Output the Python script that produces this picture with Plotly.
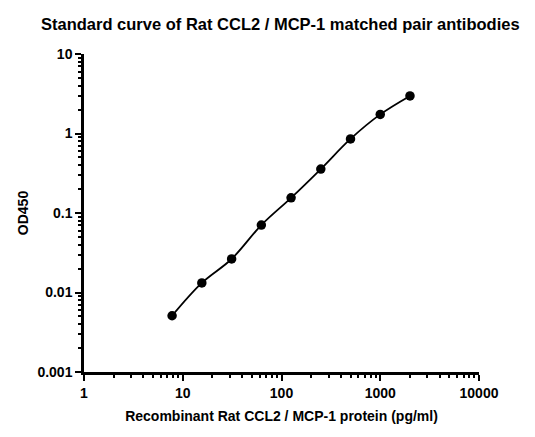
import plotly.graph_objects as go

# concentrations (pg/ml) and OD450 readings
conc = [7.8, 15.6, 31.25, 62.5, 125, 250, 500, 1000, 2000]
od450 = [0.0051, 0.0132, 0.0264, 0.0705, 0.155, 0.357, 0.855, 1.74, 2.97]

x_ticks = [1, 10, 100, 1000, 10000]
x_labels = ["1", "10", "100", "1000", "10000"]
y_ticks = [0.001, 0.01, 0.1, 1, 10]
y_labels = ["0.001", "0.01", "0.1", "1", "10"]

font_main = "Liberation Sans, Arial, sans-serif"

fig = go.Figure()
fig.add_trace(go.Scatter(
    x=conc, y=od450,
    mode="lines+markers",
    line=dict(color="black", width=1.8, shape="spline", smoothing=1.0),
    marker=dict(color="black", size=9.5),
    showlegend=False,
))

axis_common = dict(
    type="log",
    automargin=False,
    showgrid=False,
    zeroline=False,
    showline=True,
    linecolor="black",
    linewidth=2.5,
    ticks="outside",
    ticklen=6,
    tickwidth=2,
    tickcolor="black",
    tickfont=dict(family=font_main, size=14, color="black"),
    minor=dict(ticks="outside", ticklen=3, tickwidth=2, tickcolor="black",
               dtick="D1", showgrid=False),
)

fig.update_layout(
    width=535, height=437,
    margin=dict(l=76, r=64, t=46, b=73),
    paper_bgcolor="white",
    plot_bgcolor="white",
    title=dict(
        text="<b>Standard curve of Rat CCL2 / MCP-1 matched pair antibodies</b>",
        x=0.509, xanchor="center", y=0.963, yanchor="middle",
        font=dict(family=font_main, size=16.5, color="black"),
    ),
    xaxis=dict(
        axis_common,
        range=[0, 4],
        tickvals=x_ticks, ticktext=["<b>%s</b>" % t for t in x_labels],
        title=dict(text="<b>Recombinant Rat CCL2 / MCP-1 protein (pg/ml)</b>",
                   font=dict(family=font_main, size=14, color="black"), standoff=12),
    ),
    yaxis=dict(
        axis_common,
        range=[-3, 1],
        tickvals=y_ticks, ticktext=["<b>%s</b>" % t for t in y_labels],
        title=dict(text="<b>OD450</b>",
                   font=dict(family=font_main, size=14, color="black"), standoff=6),
    ),
)

fig.write_html("out.html")
